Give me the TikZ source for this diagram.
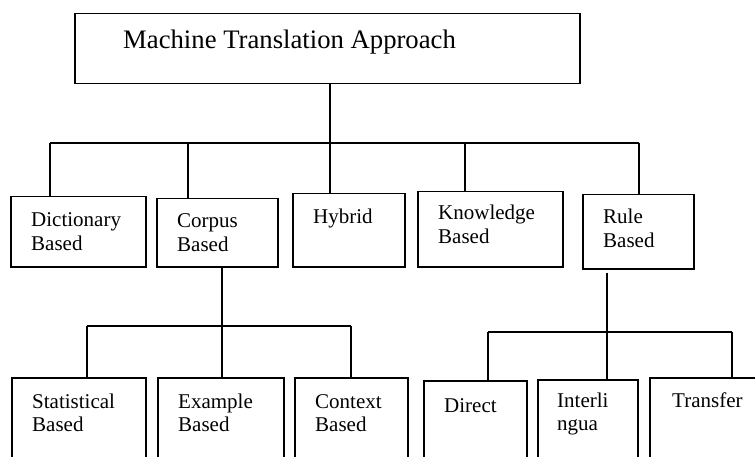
\documentclass[tikz,border=0pt]{standalone}
\usepackage{fontspec}
\setmainfont{Liberation Serif}
\usepackage{tikz}
\usetikzlibrary{calc}
\newcommand{\mtlines}[1]{\begin{tabular}[t]{@{}l@{}}#1\end{tabular}}
\tikzset{
  % Qutilar
  mtbox/.style   = {draw, line width=1.5pt, anchor=north west, inner sep=0pt},
  % Bog'lovchi chiziqlar
  mtlink/.style  = {line width=1.4pt},
  % Matnlar
  mttext/.style  = {anchor=base west, inner sep=0pt, font=\fontsize{21}{23.5}\selectfont},
  mttitle/.style = {anchor=base west, inner sep=0pt, font=\fontsize{26.7}{30}\selectfont},
}

\begin{document}
\begin{tikzpicture}[x=1pt, y=-1pt]
  \useasboundingbox (0,0) rectangle (755,457);
  % Asosiy quti
  \node[mtbox, minimum width=505pt, minimum height=70pt] (top) at (74,13) {};
  \node[mttitle] (toptxt) at (123,49) {Machine Translation Approach};
  % Ikkinchi qator
  \node[mtbox, minimum width=135pt, minimum height=70pt] (dict) at (10,196) {};
  \node[mtbox, minimum width=121pt, minimum height=68pt] (corp) at (156,198) {};
  \node[mtbox, minimum width=112pt, minimum height=73pt] (hyb) at (292,193) {};
  \node[mtbox, minimum width=145pt, minimum height=75pt] (know) at (417,191) {};
  \node[mtbox, minimum width=111pt, minimum height=74pt] (rule) at (582,194) {};
  \node[mttext] (dicttxt) at (31,227) {\mtlines{Dictionary\\Based}};
  \node[mttext] (corptxt) at (177,228) {\mtlines{Corpus\\Based}};
  \node[mttext] (hybtxt) at (313,224) {Hybrid};
  \node[mttext] (knowtxt) at (438,220) {\mtlines{Knowledge\\Based}};
  \node[mttext] (ruletxt) at (603,224) {\mtlines{Rule\\Based}};
  % Uchinchi qator (pastki chetidan kesilgan)
  \node[mtbox, minimum width=134pt, minimum height=95pt] (stat) at (11,377) {};
  \node[mtbox, minimum width=126pt, minimum height=95pt] (exam) at (157,377) {};
  \node[mtbox, minimum width=113pt, minimum height=95pt] (cont) at (294,377) {};
  \node[mtbox, minimum width=103pt, minimum height=95pt] (dirc) at (423,380) {};
  \node[mtbox, minimum width=100pt, minimum height=95pt] (intl) at (537,379) {};
  \node[mtbox, minimum width=120pt, minimum height=95pt] (trns) at (649,377) {};
  \node[mttext] (stattxt) at (32,408) {\mtlines{Statistical\\Based}};
  \node[mttext] (examtxt) at (178,408) {\mtlines{Example\\Based}};
  \node[mttext] (conttxt) at (315,408) {\mtlines{Context\\Based}};
  \node[mttext] (dirctxt) at (444,412) {Direct};
  \node[mttext] (intltxt) at (557,407) {\mtlines{Interli\\ngua}};
  \node[mttext] (trnstxt) at (672,407) {Transfer};
  % Yuqori shoxlanish
  \coordinate (s1) at (50,143);
  \coordinate (s2) at (188,143);
  \coordinate (s3) at (330,143);
  \coordinate (s4) at (465,143);
  \coordinate (s5) at (639,143);
  \draw[mtlink] (top.south -| s3) -- (s3);
  \draw[mtlink] (s1) -- (s5);
  \draw[mtlink] (s1) -- (s1 |- dict.north);
  \draw[mtlink] (s2) -- (s2 |- corp.north);
  \draw[mtlink] (s3) -- (s3 |- hyb.north);
  \draw[mtlink] (s4) -- (s4 |- know.north);
  \draw[mtlink] (s5) -- (s5 |- rule.north);
  % Corpus shoxlari
  \coordinate (c1) at (87,326);
  \coordinate (c2) at (222,326);
  \coordinate (c3) at (351,326);
  \draw[mtlink] (corp.south -| c2) -- (c2);
  \draw[mtlink] (c1) -- (c3);
  \draw[mtlink] (c1) -- (c1 |- stat.north);
  \draw[mtlink] (c2) -- (c2 |- exam.north);
  \draw[mtlink] (c3) -- (c3 |- cont.north);
  % Rule shoxlari
  \coordinate (r1) at (488,332);
  \coordinate (r2) at (607,332);
  \coordinate (r3) at (732,332);
  \draw[mtlink] ([yshift=-3pt]rule.south -| r2) -- (r2);
  \draw[mtlink] (r1) -- (r3);
  \draw[mtlink] (r1) -- (r1 |- dirc.north);
  \draw[mtlink] (r2) -- (r2 |- intl.north);
  \draw[mtlink] (r3) -- (r3 |- trns.north);
\end{tikzpicture}
\end{document}
